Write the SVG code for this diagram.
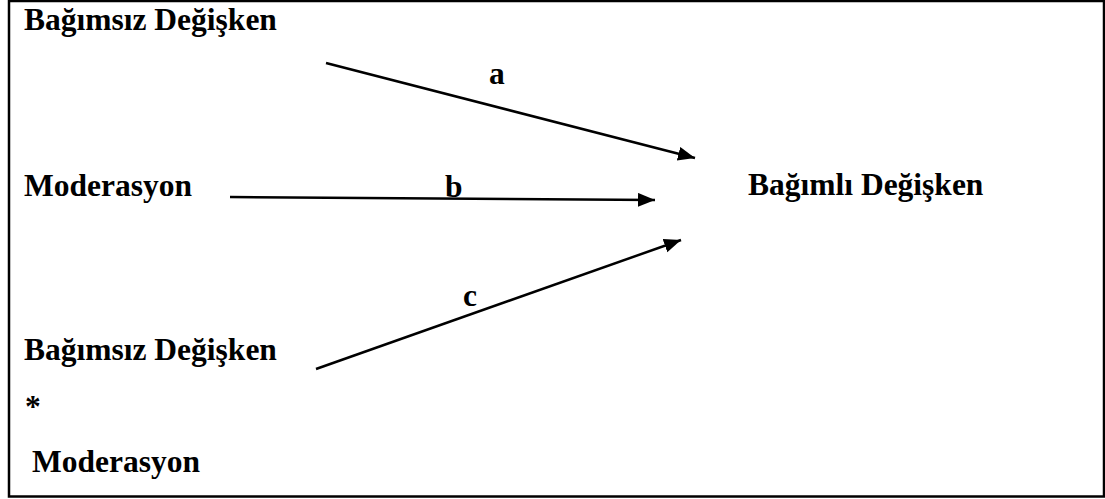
<svg xmlns="http://www.w3.org/2000/svg" width="1105" height="499" viewBox="0 0 1105 499">
<style>
text{font-family:'Liberation Serif','Times New Roman',Times,serif;font-weight:700;font-size:31.5px;fill:#000}
.c{stroke:#000;stroke-width:2.5;fill:none}
</style>
<defs>
<marker id="ah" markerUnits="userSpaceOnUse" markerWidth="20" markerHeight="16" refX="17" refY="7" orient="auto">
<path d="M0,0 L17,7 L0,14 z" fill="#000"/>
</marker>
</defs>
<rect x="9" y="1" width="1095" height="495.5" fill="#fff" stroke="#000" stroke-width="2.5"/>
<g id="iv1"><text x="24" y="30">Bağımsız Değişken</text></g>
<g id="mod"><text x="24" y="196">Moderasyon</text></g>
<g id="dv"><text x="748" y="195">Bağımlı Değişken</text></g>
<g id="inter">
<text x="24" y="360">Bağımsız Değişken</text>
<text x="25" y="417">*</text>
<text x="32" y="472">Moderasyon</text>
</g>
<g id="connectors">
<line class="c" x1="326" y1="63" x2="695" y2="158" marker-end="url(#ah)"/>
<line class="c" x1="230" y1="197" x2="655" y2="200" marker-end="url(#ah)"/>
<line class="c" x1="316" y1="369" x2="681" y2="240" marker-end="url(#ah)"/>
<text x="489" y="84">a</text>
<text x="445" y="197">b</text>
<text x="463" y="306">c</text>
</g>
</svg>
